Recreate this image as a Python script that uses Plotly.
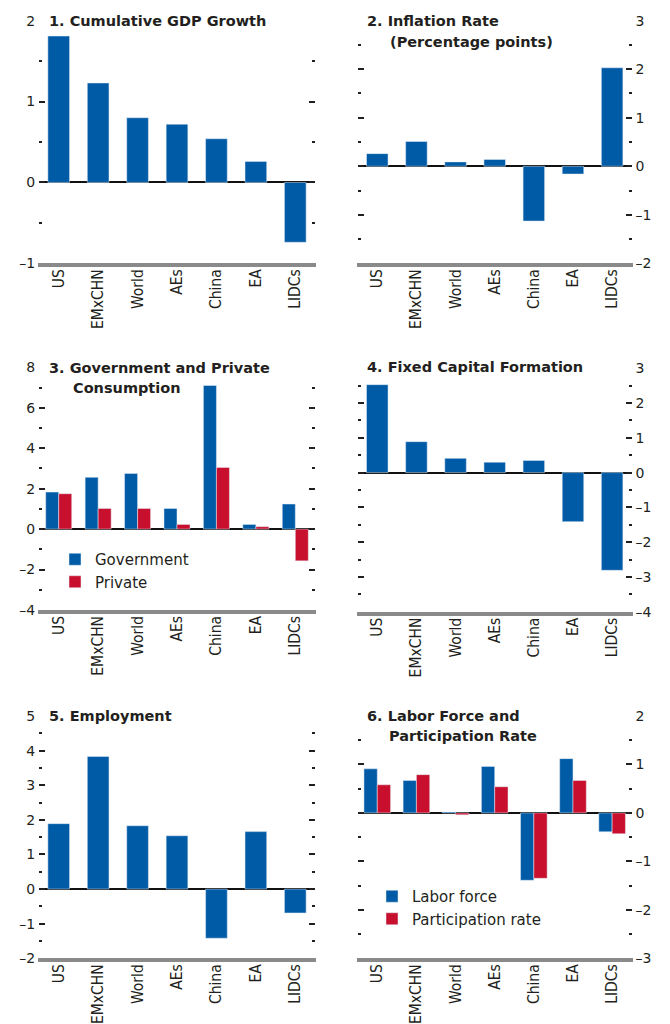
import plotly.graph_objects as go

categories = ["US", "EMxCHN", "World", "AEs", "China", "EA", "LIDCs"]

gdp_growth = [1.81, 1.23, 0.80, 0.72, 0.54, 0.26, -0.74]
inflation = [0.26, 0.51, 0.09, 0.14, -1.13, -0.16, 2.03]
gov_consumption = [1.83, 2.56, 2.75, 1.02, 7.10, 0.23, 1.24]
priv_consumption = [1.75, 1.02, 1.02, 0.23, 3.05, 0.12, -1.57]
fixed_capital = [2.53, 0.89, 0.41, 0.30, 0.35, -1.41, -2.81]
employment = [1.89, 3.83, 1.83, 1.54, -1.42, 1.66, -0.69]
labor_force = [0.91, 0.67, 0.02, 0.96, -1.39, 1.12, -0.39]
participation = [0.58, 0.79, -0.04, 0.54, -1.35, 0.67, -0.43]

BLUE = "#005ba6"
RED = "#c8102e"
TXT = "#231f20"

# page has an 8px body margin; the figure is sized to fit the 670x1024 window
OFF = 8
W, H = 670 - OFF, 1024 - OFF

fig = go.Figure()

def fx(x):
    return (x - OFF) / W

def fy(y):
    return 1 - (y - OFF) / H

def px_x(a, b):
    return [fx(a), fx(b)]

def px_y(top, bottom):
    return [fy(bottom), fy(top)]

def fmt(v):
    s = ("%g" % abs(v))
    return ("\u2013" + s) if v < 0 else s

left_x = px_x(39, 315)
right_x = px_x(357.7, 631.7)

panels = [
    # (xdomain, ydomain, range, dtick, minor, side)
    (left_x, px_y(20.7, 263.3), [-1, 2], 1, 0.5, "left"),
    (right_x, px_y(20.7, 263.3), [-2, 3], 1, 0.5, "right"),
    (left_x, px_y(367.3, 610), [-4, 8], 2, 1, "left"),
    (right_x, px_y(368.3, 611.7), [-4, 3], 1, 0.5, "right"),
    (left_x, px_y(716, 958.3), [-2, 5], 1, 0.5, "left"),
    (right_x, px_y(716, 958.3), [-3, 2], 1, 0.5, "right"),
]

for i, (xd, yd, rng, dt, mn, side) in enumerate(panels, start=1):
    sx = "" if i == 1 else str(i)
    tv = list(range(rng[0], rng[1] + 1, dt))
    fig.layout["xaxis" + sx] = dict(
        domain=xd, anchor="y" + sx, type="category", automargin=False,
        range=[-0.5, 6.5], tickangle=-90, showline=True,
        linecolor="#8a8a8a", linewidth=3.5, ticks="", showgrid=False,
        ticklabelstandoff=-4,
        tickfont=dict(family="Liberation Sans Narrow, DejaVu Sans Condensed, Arial Narrow", size=15.5, color=TXT),
        fixedrange=True,
    )
    fig.layout["yaxis" + sx] = dict(
        domain=yd, anchor="x" + sx, range=rng, automargin=False,
        tickmode="array", tickvals=tv, ticktext=[fmt(v) for v in tv],
        side=side, ticks="inside", ticklen=6, tickwidth=2, tickcolor=TXT,
        mirror="ticks", showline=True, linecolor="rgba(0,0,0,0)",
        showgrid=False, zeroline=True, zerolinecolor="#111111", zerolinewidth=1.5,
        tickfont=dict(family="DejaVu Sans", size=14, color=TXT),
        minor=dict(dtick=mn, tick0=0, ticks="inside", ticklen=3, tickwidth=2, tickcolor=TXT, showgrid=False),
        fixedrange=True,
    )

single = [(1, gdp_growth), (2, inflation), (4, fixed_capital), (5, employment)]
for i, vals in single:
    sx = "" if i == 1 else str(i)
    fig.add_trace(go.Bar(x=categories, y=vals, marker_color=BLUE, width=0.55,
                         xaxis="x" + sx, yaxis="y" + sx, showlegend=False))

# Panel 3
fig.add_trace(go.Bar(x=categories, y=gov_consumption, name="Government", marker_color=BLUE,
                     width=0.33, offset=-0.33, xaxis="x3", yaxis="y3", legend="legend"))
fig.add_trace(go.Bar(x=categories, y=priv_consumption, name="Private", marker_color=RED,
                     width=0.33, offset=0, xaxis="x3", yaxis="y3", legend="legend"))
# Panel 6
fig.add_trace(go.Bar(x=categories, y=labor_force, name="Labor force", marker_color=BLUE,
                     width=0.34, offset=-0.34, xaxis="x6", yaxis="y6", legend="legend2"))
fig.add_trace(go.Bar(x=categories, y=participation, name="Participation rate", marker_color=RED,
                     width=0.34, offset=0, xaxis="x6", yaxis="y6", legend="legend2"))

titles = [
    ("1. Cumulative GDP Growth", 47, 20.7),
    ("2. Inflation Rate", 365, 20.7),
    ("(Percentage points)", 388, 41.7),
    ("3. Government and Private", 47, 368),
    ("Consumption", 71, 388),
    ("4. Fixed Capital Formation", 365, 367.5),
    ("5. Employment", 47, 715.5),
    ("6. Labor Force and", 365, 715.5),
    ("Participation Rate", 387, 736),
]
for text, x, y in titles:
    fig.add_annotation(text="<b>" + text + "</b>", x=fx(x), y=fy(y), xref="paper", yref="paper",
                       xanchor="left", yanchor="middle", showarrow=False,
                       font=dict(family="DejaVu Sans", size=14.5, color=TXT))

legend_style = dict(font=dict(family="DejaVu Sans", size=15, color=TXT), bgcolor="rgba(0,0,0,0)",
                    borderwidth=0, xanchor="left", yanchor="top", tracegroupgap=0,
                    itemclick=False, itemdoubleclick=False)
fig.update_layout(
    width=W, height=H, margin=dict(l=0, r=0, t=0, b=0, autoexpand=False),
    paper_bgcolor="white", plot_bgcolor="white",
    legend=dict(x=fx(55), y=fy(543), **legend_style),
    legend2=dict(x=fx(372), y=fy(880), **legend_style),
    barmode="overlay",
)

fig.write_html("out.html")
